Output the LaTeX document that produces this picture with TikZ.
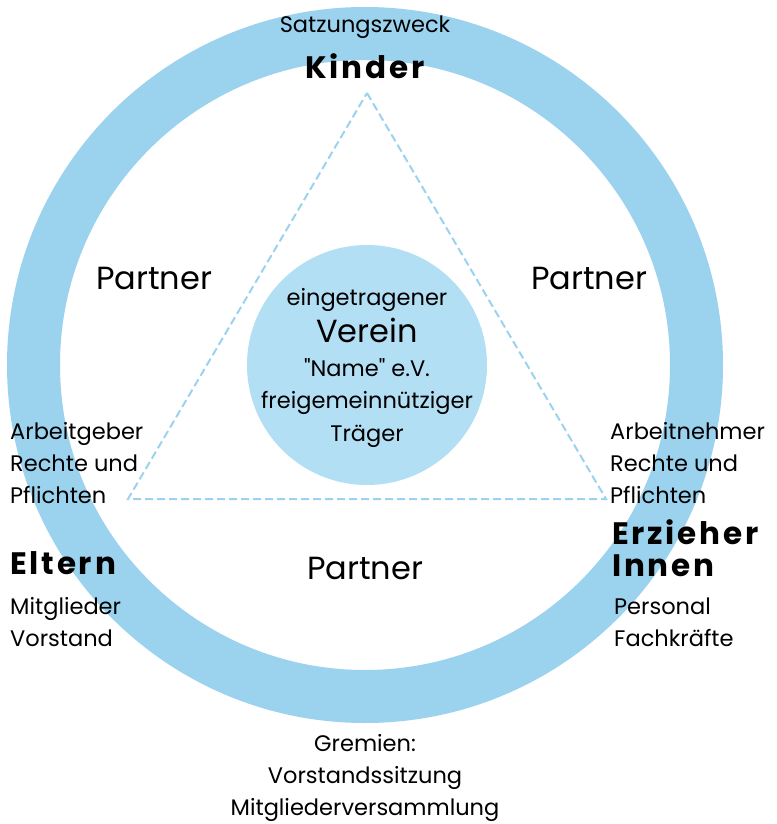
\documentclass[tikz,border=0pt]{standalone}
\usepackage{fontspec}
\setmainfont{Poppins}
\usetikzlibrary{positioning}
\definecolor{ringblue}{HTML}{9BD3EF}
\definecolor{kernblue}{HTML}{B3DFF4}
\newcommand\fat[1]{{\addfontfeature{LetterSpace=9}\bfseries #1}}
\tikzset{
  txt/.style={inner sep=0pt,font=\fontsize{22.5}{32}\selectfont},
  big/.style={inner sep=0pt,font=\fontsize{32}{32}\selectfont},
  fett/.style={inner sep=0pt,font=\fontsize{31}{32}\selectfont},
}
\begin{document}
\begin{tikzpicture}[x=1pt,y=-1pt]
\useasboundingbox (0,0) rectangle (776,824);
%%%%% ring and centre:
\node[circle,draw=ringblue,line width=53pt,minimum size=663pt,inner sep=0pt] (ring) at (365,365) {};
\node[circle,fill=kernblue,minimum size=240pt,inner sep=0pt] (verein) at (367,365) {};
\node[inner sep=0pt,align=center,font=\fontsize{22.5}{34}\selectfont] (vtext) at (367,368)
  {eingetragener\\[3pt] {\fontsize{32}{34}\selectfont Verein}\\ \textquotedbl Name\textquotedbl{} e.V.\\[-2pt] freigemeinnütziger\\[-1pt] Träger};
%%%%% triangle:
\coordinate (top)   at (367,93);
\coordinate (left)  at (128,499);
\coordinate (right) at (606,499);
\draw[ringblue,line width=2pt,dash pattern=on 8pt off 4pt] (top) -- (right) -- (left) -- cycle;
%%%%% labels:
\node[txt] (zweck) at (365,27) {Satzungszweck};
\node[fett] (kinder) at (365,66) {\fat{Kinder}};
\node[big] (p1) at (154,278) {Partner};
\node[big] (p2) at (589,278) {Partner};
\node[big] (p3) at (365,568) {Partner};
\node[txt,anchor=west,align=left] (ag) at (10,463) {Arbeitgeber\\ Rechte und\\ Pflichten};
\node[fett,anchor=west] (eltern) at (10,563) {\fat{Eltern}};
\node[txt,anchor=west,align=left] (mitgl) at (10,622) {Mitglieder\\ Vorstand};
\node[txt,anchor=west,align=left] (an) at (610,463) {Arbeitnehmer\\ Rechte und\\ Pflichten};
\node[fett,anchor=west,align=left] (erz) at (612,548) {\fat{Erzieher}\\ \fat{Innen}};
\node[txt,anchor=west,align=left] (pers) at (614,622) {Personal\\ Fachkräfte};
\node[txt,align=center] (gremien) at (365,778) {Gremien:\\ Vorstandssitzung\\ Mitgliederversammlung};
\end{tikzpicture}
\end{document}
